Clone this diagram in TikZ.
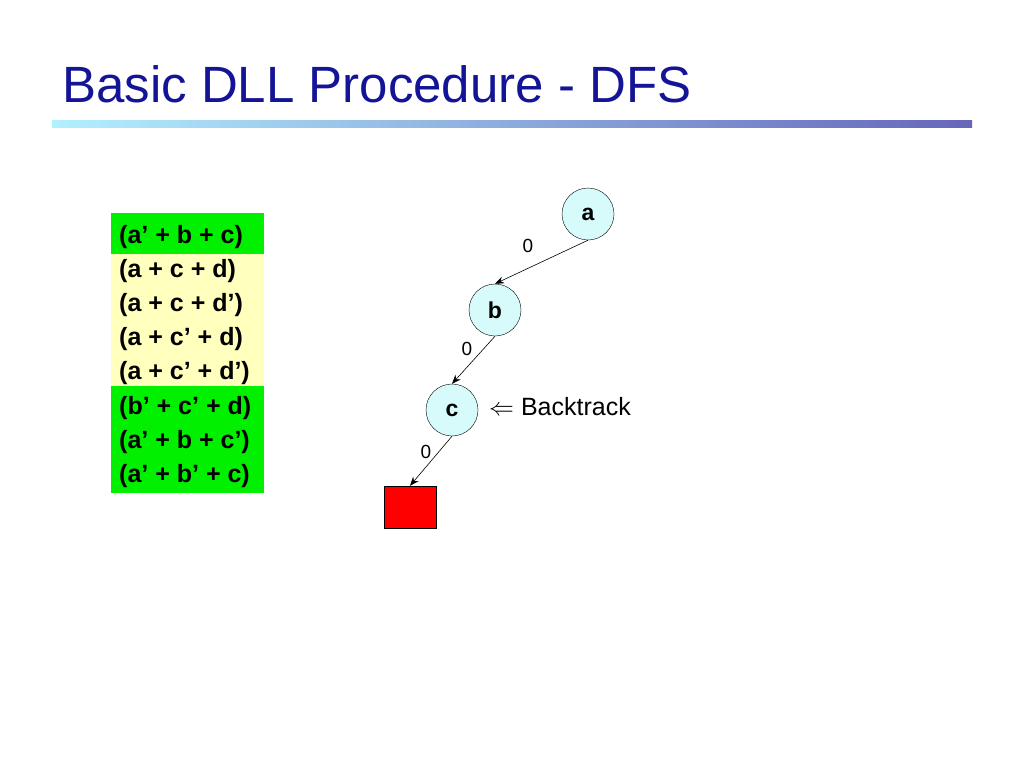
\documentclass[tikz,border=0pt]{standalone}
\usepackage{fontspec}
\setmainfont{Liberation Sans}
\usetikzlibrary{arrows.meta}
\definecolor{titleblue}{RGB}{20,20,150}
\definecolor{nodecyan}{RGB}{215,250,250}
\definecolor{clgreen}{RGB}{0,240,0}
\definecolor{clyellow}{RGB}{255,255,190}
\begin{document}
\begin{tikzpicture}[x=1pt,y=-1pt,
  vnode/.style={circle,draw,fill=nodecyan,minimum size=52pt,inner sep=0pt,font=\fontsize{23}{26}\selectfont\bfseries},
  clause/.style={anchor=west,inner sep=0pt,font=\fontsize{25}{28}\selectfont\bfseries},
  elabel/.style={font=\fontsize{19}{22}\selectfont},
  tedge/.style={-{Stealth[length=9pt,width=7pt]},line width=0.6pt}]
\useasboundingbox (0,0) rectangle (1024,768);
\node[anchor=base west,text=titleblue,inner sep=0pt,font=\fontsize{51}{56}\selectfont] (title) at (62,102) {Basic DLL Procedure - DFS};
\shade[left color=blue!20!cyan!30,right color=blue!55!black!60,draw=none] (52,120) rectangle (972,127);
\fill[clgreen] (111,213) rectangle (264,254);
\fill[clyellow] (111,254) rectangle (264,386);
\fill[clgreen] (111,386) rectangle (264,493);
\node[clause] (c1) at (119,237) {(a’ + b + c)};
\node[clause] (c2) at (119,271) {(a + c + d)};
\node[clause] (c3) at (119,305) {(a + c + d’)};
\node[clause] (c4) at (119,339) {(a + c’ + d)};
\node[clause] (c5) at (119,373) {(a + c’ + d’)};
\node[clause] (c6) at (119,408) {(b’ + c’ + d)};
\node[clause] (c7) at (119,442) {(a’ + b + c’)};
\node[clause] (c8) at (119,476) {(a’ + b’ + c)};
\node[vnode] (a) at (588,214) {a};
\node[vnode] (b) at (495,310) {b};
\node[vnode] (c) at (452,410) {c};
\node[draw,fill=red,minimum width=52pt,minimum height=42pt,inner sep=0pt] (r) at (410,507) {};
\draw[tedge] (a.south) -- (b.north);
\draw[tedge] (b.south) -- (c.north);
\draw[tedge] (c.south) -- (r.north);
\node[elabel] (l1) at (528,246) {0};
\node[elabel] (l2) at (467,349) {0};
\node[elabel] (l3) at (426,452) {0};
\node[anchor=west,inner sep=0pt,font=\fontsize{25}{28}\selectfont] (bt) at (489,407) {$\Leftarrow$ Backtrack};
\end{tikzpicture}
\end{document}
